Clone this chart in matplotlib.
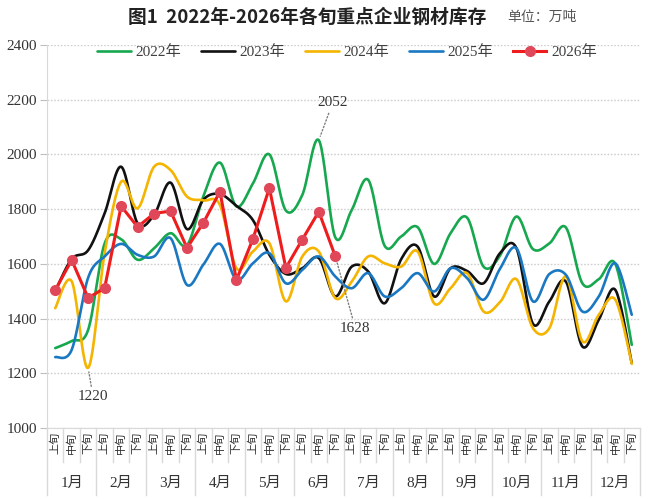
import numpy as np
import matplotlib
matplotlib.use("Agg")
import matplotlib.pyplot as plt
from matplotlib.lines import Line2D
import matplotlib.transforms as mtransforms

plt.rcParams['font.family'] = ['Liberation Serif', 'Noto Sans CJK SC', 'DejaVu Sans']

months = [f"{m}月" for m in range(1, 13)]
xuns = ["上旬", "中旬", "下旬"]
tick_labels = [x for m in months for x in xuns]

y2022 = [1292, 1318, 1359, 1675, 1690, 1615, 1657, 1712, 1668, 1848, 1970, 1810,
         1894, 2000, 1795, 1852, 2052, 1697, 1797, 1907, 1666, 1700, 1734, 1600,
         1712, 1769, 1590, 1630, 1773, 1654, 1675, 1733, 1529, 1544, 1600, 1304]
y2023 = [1500, 1618, 1650, 1785, 1955, 1748, 1779, 1897, 1727, 1835, 1855, 1812,
         1760, 1633, 1563, 1584, 1621, 1481, 1590, 1572, 1456, 1617, 1663, 1481,
         1584, 1574, 1529, 1639, 1657, 1381, 1463, 1535, 1298, 1396, 1505, 1237]
y2024 = [1438, 1536, 1220, 1640, 1900, 1803, 1955, 1943, 1846, 1832, 1815, 1584,
         1645, 1675, 1463, 1627, 1645, 1475, 1535, 1627, 1602, 1590, 1645, 1456,
         1511, 1566, 1426, 1460, 1544, 1365, 1365, 1554, 1317, 1414, 1469, 1235]
y2025 = [1259, 1286, 1550, 1627, 1673, 1633, 1627, 1694, 1523, 1598, 1673, 1542,
         1602, 1639, 1529, 1578, 1627, 1554, 1511, 1566, 1481, 1511, 1566, 1499,
         1584, 1548, 1469, 1582, 1657, 1463, 1563, 1560, 1426, 1481, 1602, 1414]
y2026 = [1504, 1614, 1475, 1512, 1811, 1735, 1784, 1793, 1658, 1751, 1864, 1541,
         1691, 1877, 1585, 1689, 1791, 1628]

series = [("2022年", y2022, "#17a84f"), ("2023年", y2023, "#111111"),
          ("2024年", y2024, "#f4b400"), ("2025年", y2025, "#1a78c2")]


def smooth(ys, n=24):
    p = np.array(ys, dtype=float)
    x = np.arange(len(p), dtype=float)
    P = np.column_stack([x, p])
    P = np.vstack([P[0], P, P[-1]])
    out = []
    for i in range(1, len(P) - 2):
        p0, p1, p2, p3 = P[i - 1], P[i], P[i + 1], P[i + 2]
        c1 = p1 + (p2 - p0) / 6.0
        c2 = p2 - (p3 - p1) / 6.0
        t = np.linspace(0, 1, n)[:, None]
        b = ((1 - t) ** 3) * p1 + 3 * ((1 - t) ** 2) * t * c1 + 3 * (1 - t) * t ** 2 * c2 + t ** 3 * p2
        out.append(b if i == 1 else b[1:])
    out = np.vstack(out)
    return out[:, 0], out[:, 1]


fig = plt.figure(figsize=(6.5, 5.01), dpi=100)
ax = fig.add_axes([47 / 650, 1 - 428 / 501, 593 / 650, 383 / 501])

for name, ys, col in series:
    sx, sy = smooth(ys)
    ax.plot(sx, sy, color=col, lw=1.9, label=name, solid_capstyle='round')

ax.plot(np.arange(len(y2026)), y2026, color="#ee1c1c", lw=2.2, marker='o',
        markersize=7, markerfacecolor="#e0485a", markeredgecolor="#e0485a",
        label="2026年", zorder=5)

ax.set_xlim(-0.5, 35.5)
ax.set_ylim(1000, 2400)
ax.set_yticks(np.arange(1000, 2401, 200))
ax.yaxis.grid(True, linestyle=(0, (1.2, 1.2)), color="#cfcfcf", lw=1)
ax.set_axisbelow(True)
for s in ['top', 'right']:
    ax.spines[s].set_visible(False)
ax.spines['left'].set_color("#d9d9d9")
ax.spines['bottom'].set_color("#d9d9d9")
ax.tick_params(axis='y', length=5, color="#bfbfbf", labelsize=11, labelcolor="#333333", pad=2)

ax.set_xticks(np.arange(36))
ax.set_xticklabels(tick_labels, rotation=90, fontsize=8, color="#333333",
                   family=['Noto Sans CJK SC', 'DejaVu Sans'])
ax.tick_params(axis='x', length=0, pad=3)

trans = mtransforms.blended_transform_factory(ax.transData, ax.transAxes)
for k in range(37):
    xb = k - 0.5
    long_ = (k % 3 == 0)
    ax.add_line(Line2D([xb, xb], [0, -0.175 if long_ else -0.088], transform=trans,
                       color="#d9d9d9", lw=1, clip_on=False))
for m, lab in enumerate(months):
    ax.text(3 * m + 1, -0.1436, lab, transform=trans, ha='center', va='center',
            fontsize=11, color="#333333")

ann = dict(arrowstyle='-', linestyle=(0, (1, 1.5)), color="#7f7f7f", lw=1, shrinkA=1, shrinkB=3)
i = int(np.argmax(y2022))
ax.annotate(f"{y2022[i]}", xy=(i, y2022[i]), xytext=(10, 27), textcoords='offset points',
            ha='center', va='center', fontsize=11, color="#333333", arrowprops=ann)
i = int(np.argmin(y2024))
ax.annotate(f"{y2024[i]}", xy=(i, y2024[i]), xytext=(3.5, -21), textcoords='offset points',
            ha='center', va='center', fontsize=11, color="#333333", arrowprops=ann)
i = len(y2026) - 1
ax.annotate(f"{y2026[i]}", xy=(i, y2026[i]), xytext=(14.5, -52), textcoords='offset points',
            ha='center', va='center', fontsize=11, color="#333333", arrowprops=ann)

leg = ax.legend(loc='center', bbox_to_anchor=(0.506, 1 - 7 / 383), ncol=5, frameon=False,
                fontsize=11, handlelength=2.2, handletextpad=0.3, columnspacing=1.3,
                labelcolor="#404040")

fig.text(307 / 650, 1 - 17 / 501, "图1  2022年-2026年各旬重点企业钢材库存", ha='center', va='center',
         fontsize=13.5, fontweight='bold', color="#222222",
         family=['Noto Sans CJK SC', 'DejaVu Sans'])
fig.text(542 / 650, 1 - 17 / 501, "单位：万吨", ha='center', va='center', fontsize=10,
         color="#555555", family=['Noto Sans CJK SC', 'DejaVu Sans'])

fig.savefig("out.png", dpi=100)
